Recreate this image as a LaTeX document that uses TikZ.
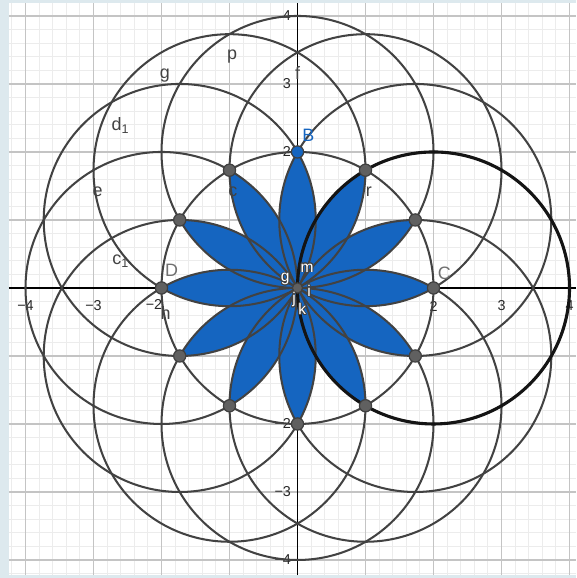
\documentclass[tikz,border=0pt]{standalone}
\usepackage{fontspec}
\setmainfont{Liberation Sans}
\usepackage{contour}
\contourlength{0.35pt}
\usepackage{tikz}
\usetikzlibrary{positioning}

\definecolor{framebg}{RGB}{221,233,238}
\definecolor{minorgrid}{RGB}{236,236,236}
\definecolor{majorgrid}{RGB}{196,196,196}
\definecolor{petalblue}{RGB}{21,101,192}
\definecolor{circgray}{RGB}{66,66,66}
\definecolor{dotgray}{RGB}{96,96,96}
\definecolor{ptgray}{RGB}{112,112,112}

\begin{document}
\begin{tikzpicture}[
    circ/.style={draw=circgray, line width=0.85pt},
    boldcirc/.style={draw=black!92, line width=1.3pt},
    petal/.style={fill=petalblue},
    dot/.style={circle, draw=black!75, line width=0.5pt, fill=dotgray, minimum size=0.18cm, inner sep=0pt},
    bluedot/.style={dot, fill=petalblue},
    origdot/.style={dot, minimum size=0.15cm},
    tick/.style={font=\fontsize{6}{7}\selectfont, text=black!85, inner sep=0pt},
    lbl/.style={font=\fontsize{7.5}{9}\selectfont, text=circgray, inner sep=0pt},
    ptlbl/.style={font=\fontsize{7.5}{9}\selectfont, text=ptgray, inner sep=0pt},
    ctrlbl/.style={font=\fontsize{6.5}{8}\selectfont, inner sep=0pt}
]
% frame and grid
\fill[framebg] (-4.375,-4.265) rectangle (4.096,4.235);
\useasboundingbox (-4.375,-4.265) rectangle (4.096,4.235);
\fill[white] (-4.243,-4.221) rectangle (4.096,4.19);
\draw[minorgrid, line width=0.4pt] (-4.243,-4.221) grid[step=0.2] (4.096,4.19);
\draw[majorgrid, line width=0.5pt] (-4.243,-4.221) grid[step=1] (4.096,4.19);

% axes
\coordinate (xl) at (-4.243,0);
\coordinate (xr) at (4.096,0);
\coordinate (yb) at (0,-4.221);
\coordinate (yt) at (0,4.19);
\draw[black, line width=0.5pt] (xl) -- (xr);
\draw[black, line width=0.5pt] (yb) -- (yt);
\foreach \x/\t in {-4/−4, -3/−3, 2/2, 3/3, 4/4}
    \node[tick] (xt\x) at (\x,-0.265) {\t};
\node[tick] (xt-2) at (-2.11,-0.25) {−2};
\foreach \y/\t in {-4/−4, -3/−3, -2/−2, 2/2, 3/3, 4/4}
    \node[tick, anchor=east] (yt\y) at (-0.09,\y) {\t};

% petals
\foreach \a in {0,30,...,330}
    \fill[petal] (0,0) arc[start angle=\a+120, end angle=\a+60, radius=2]
                 arc[start angle=\a-60, end angle=\a-120, radius=2] -- cycle;

% circles
\draw[circ] (0,0) circle[radius=2];
\foreach \a in {0,30,...,330}
    \draw[circ] (\a:2) circle[radius=2];
\draw[boldcirc] (0:2) circle[radius=2];

% points
\foreach \a in {0,30,60,120,150,180,210,240,270,300,330}
    \node[dot] (P\a) at (\a:2) {};
\node[bluedot] (B) at (90:2) {};
\node[origdot] (O) at (0,0) {};

% labels
\node[lbl] (f) at (0.0,3.16) {f};
\node[lbl] (p) at (-0.96,3.40) {p};
\node[lbl] (g) at (-1.95,3.13) {g};
\node[lbl, anchor=base west] (d1) at (-2.74,2.32) {d\textsubscript{1}};
\node[lbl] (e) at (-2.94,1.42) {e};
\node[lbl] (c) at (-0.95,1.41) {c};
\node[lbl, anchor=base west] (c1) at (-2.73,0.34) {c\textsubscript{1}};
\node[lbl] (h) at (-1.94,-0.37) {h};
\node[lbl] (r) at (1.05,1.42) {r};
\node[ptlbl, text=petalblue] (B-lbl) at (0.16,2.25) {B};
\node[ptlbl] (C-lbl) at (2.16,0.22) {C};
\node[ptlbl] (D-lbl) at (-1.85,0.26) {D};
\node[ctrlbl] (g2) at (-0.18,0.12) {\contour{circgray}{\textcolor{white}{g}}};
\node[ctrlbl] (m) at (0.14,0.29) {\contour{circgray}{\textcolor{white}{m}}};
\node[ctrlbl] (i) at (0.17,-0.05) {\contour{circgray}{\textcolor{white}{i}}};
\node[ctrlbl] (j) at (-0.05,-0.18) {\contour{circgray}{\textcolor{white}{j}}};
\node[ctrlbl] (k) at (0.07,-0.32) {\contour{circgray}{\textcolor{white}{k}}};
\end{tikzpicture}
\end{document}
